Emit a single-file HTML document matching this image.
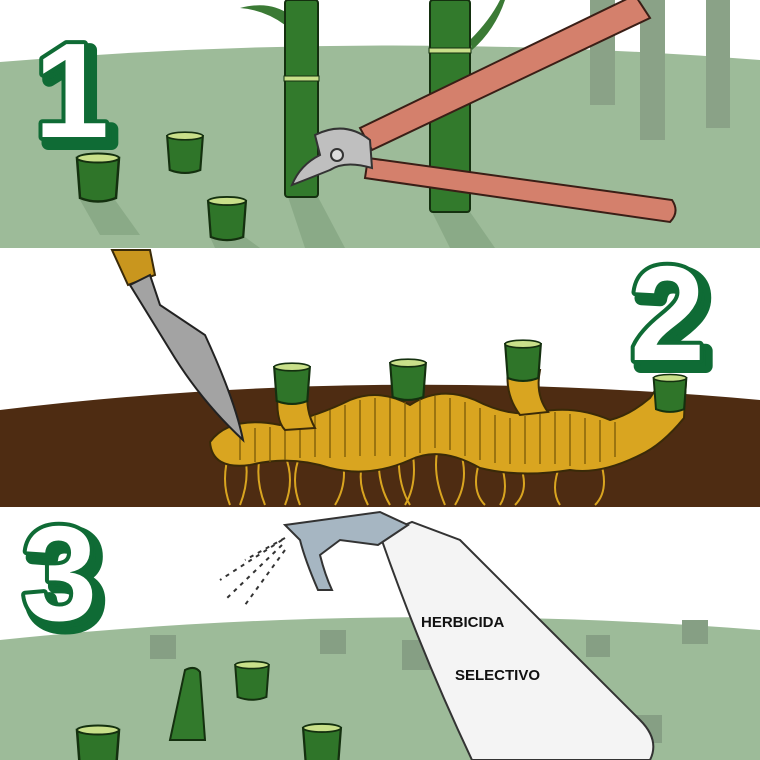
<!DOCTYPE html>
<html><head><meta charset="utf-8"><style>
html,body{margin:0;padding:0;background:#fff;width:760px;height:760px;overflow:hidden}
svg{display:block}
.num{font-family:"Liberation Sans",sans-serif;font-weight:900;font-size:135px;stroke-linejoin:round;paint-order:stroke}
.sh{fill:#0f6b35;stroke:#0f6b35;stroke-width:14}
.fg{fill:#fff;stroke:#0f6b35;stroke-width:8}
</style></head><body>
<svg width="760" height="760" viewBox="0 0 760 760" xmlns="http://www.w3.org/2000/svg">
<defs>
<g id="stump">
<path d="M-21,0 L-18,40 Q0,47 18,40 L21,0 Z" fill="#2f7529" stroke="#14300f" stroke-width="2.5"/>
<ellipse cx="0" cy="0" rx="21" ry="4.5" fill="#c9e08a" stroke="#14300f" stroke-width="2"/>
</g>
</defs>
<!-- PANEL 1 -->
<rect x="0" y="0" width="760" height="248" fill="#fff"/>
<path d="M0,62 Q380,30 760,60 L760,248 L0,248 Z" fill="#9dbb99"/>
<rect x="590" y="0" width="25" height="105" fill="#8aa287"/>
<rect x="640" y="0" width="25" height="140" fill="#8aa287"/>
<rect x="706" y="0" width="24" height="128" fill="#8aa287"/>
<path d="M240,8 Q270,0 290,15 L285,25 Q265,10 240,8Z" fill="#3b7a35"/>
<path d="M470,40 Q490,20 500,0 L505,0 Q495,30 472,50Z" fill="#3b7a35"/>
<g fill="#8aaa87"><path d="M80,200 L115,200 L140,235 L100,235Z"/><path d="M210,237 L245,237 L260,248 L215,248Z"/><path d="M288,197 L318,197 L345,248 L305,248Z"/><path d="M432,212 L470,212 L495,248 L450,248Z"/></g>
<g transform="translate(98,158)"><use href="#stump"/></g>
<g transform="translate(185,136)"><use href="#stump" transform="scale(0.85)"/></g>
<g transform="translate(227,201)"><use href="#stump" transform="scale(0.9)"/></g>
<rect x="285" y="0" width="33" height="197" rx="3" fill="#327a2c" stroke="#14300f" stroke-width="2"/>
<rect x="284" y="76" width="35" height="5" fill="#c9e08a" stroke="#14300f" stroke-width="1"/>
<rect x="430" y="0" width="40" height="212" rx="3" fill="#327a2c" stroke="#14300f" stroke-width="2"/>
<rect x="429" y="48" width="42" height="5" fill="#c9e08a" stroke="#14300f" stroke-width="1"/>
<path d="M360,128 L635,-5 L650,18 L372,150 Z" fill="#d4806c" stroke="#3a1e16" stroke-width="2"/>
<path d="M368,158 L672,200 Q680,212 670,222 L365,178 Z" fill="#d4806c" stroke="#3a1e16" stroke-width="2"/>
<path d="M315,135 Q345,120 370,140 L372,168 Q345,160 330,170 Q305,180 292,185 Q300,165 320,155 Z" fill="#bfbfbf" stroke="#333" stroke-width="2"/>
<circle cx="337" cy="155" r="6" fill="#ddd" stroke="#333" stroke-width="2"/>
<text class="num sh" x="40" y="143">1</text>
<text class="num fg" x="34" y="137">1</text>
<!-- PANEL 2 -->
<rect x="0" y="250" width="760" height="257" fill="#fff"/>
<path d="M0,410 Q370,365 760,400 L760,507 L0,507 Z" fill="#4e2c12"/>
<g stroke="#d9a520" stroke-width="2" fill="none">
<path d="M230,450 Q220,480 230,505 M245,455 Q250,480 240,505 M260,455 Q255,480 265,505 M285,455 Q295,480 285,505 M300,455 Q290,480 300,505 M340,450 Q350,480 335,505 M365,455 Q355,480 368,505 M380,445 Q375,480 390,505 M400,440 Q395,480 410,505 M410,440 Q420,480 405,505 M440,440 Q430,470 445,505 M460,450 Q470,480 455,505 M480,460 Q470,490 485,505 M500,460 Q510,490 500,505 M520,465 Q530,490 515,505 M560,465 Q550,490 560,505 M600,460 Q610,490 595,505"/>
</g>
<path d="M210,442 Q230,415 280,425 Q320,415 350,400 Q380,388 410,405 Q440,385 475,400 Q510,418 540,412 Q575,405 610,420 Q630,415 650,398 L662,380 L686,380 L684,418 Q662,445 640,455 Q600,475 570,470 Q520,478 480,468 Q440,445 410,460 Q370,478 330,468 Q290,455 250,465 Q212,470 210,442 Z" fill="#d9a520" stroke="#3a2a08" stroke-width="2"/>
<g stroke="#7a5a08" stroke-width="1.3"><path d="M240,430v30M255,428v34M270,427v35M285,426v34M300,420v38M315,415v42M330,410v48M345,405v52M360,400v56M375,398v58M390,398v58M405,402v55M420,398v55M435,396v52M450,398v52M465,402v54M480,408v52M495,415v48M510,418v46M525,416v48M540,414v50M555,412v52M570,414v52M585,418v46M600,420v42M615,422v35"/></g>
<path d="M278,390 Q275,420 285,430 L315,428 Q305,410 308,390 Z" fill="#d9a520" stroke="#3a2a08" stroke-width="2"/>
<path d="M508,370 Q505,395 520,415 L548,412 Q535,395 540,370 Z" fill="#d9a520" stroke="#3a2a08" stroke-width="2"/>
<g transform="translate(292,367)"><use href="#stump" transform="scale(0.85)"/></g>
<g transform="translate(408,363)"><use href="#stump" transform="scale(0.85)"/></g>
<g transform="translate(523,344)"><use href="#stump" transform="scale(0.85)"/></g>
<g transform="translate(670,378)"><use href="#stump" transform="scale(0.78)"/></g>
<path d="M112,250 L150,250 L155,275 L128,285 Z" fill="#c9961e" stroke="#3a2a08" stroke-width="2"/>
<path d="M130,285 L150,275 L160,305 L205,335 Q235,400 243,440 Q200,400 170,350 Z" fill="#a3a3a3" stroke="#222" stroke-width="2"/>
<text class="num sh" x="636" y="366">2</text>
<text class="num fg" x="630" y="360">2</text>
<!-- PANEL 3 -->
<rect x="0" y="510" width="760" height="250" fill="#fff"/>
<path d="M0,640 Q380,600 760,630 L760,760 L0,760 Z" fill="#9dbb99"/>
<g fill="#869f84"><rect x="150" y="635" width="26" height="24"/><rect x="320" y="630" width="26" height="24"/><rect x="402" y="640" width="28" height="30"/><rect x="586" y="635" width="24" height="22"/><rect x="682" y="620" width="26" height="24"/><rect x="632" y="715" width="30" height="28"/></g>
<path d="M170,740 L185,670 Q195,665 200,672 L205,740 Z" fill="#327a2c" stroke="#14300f" stroke-width="2"/>
<g transform="translate(252,665)"><use href="#stump" transform="scale(0.8)"/></g>
<g transform="translate(98,730)"><use href="#stump"/></g>
<g transform="translate(322,728)"><use href="#stump" transform="scale(0.9)"/></g>
<path d="M380,535 L412,522 L460,540 L640,720 Q660,740 650,760 L472,760 Q420,650 380,535 Z" fill="#f4f4f4" stroke="#333" stroke-width="2"/>
<path d="M285,525 L380,512 L408,525 L378,545 L340,540 L320,555 Q325,575 332,590 L318,590 Q305,560 300,540 Z" fill="#a6b6c2" stroke="#333" stroke-width="2"/>
<g stroke="#333" stroke-width="2" stroke-dasharray="4 5"><line x1="282" y1="540" x2="220" y2="580"/><line x1="282" y1="545" x2="225" y2="600"/><line x1="285" y1="550" x2="245" y2="605"/><line x1="285" y1="538" x2="245" y2="560"/></g>
<text x="421" y="627" font-family="Liberation Sans,sans-serif" font-weight="bold" font-size="15" fill="#111">HERBICIDA</text>
<text x="455" y="680" font-family="Liberation Sans,sans-serif" font-weight="bold" font-size="15" fill="#111">SELECTIVO</text>
<text class="num sh" x="28" y="626">3</text>
<text class="num fg" x="22" y="620">3</text>
</svg>
</body></html>
